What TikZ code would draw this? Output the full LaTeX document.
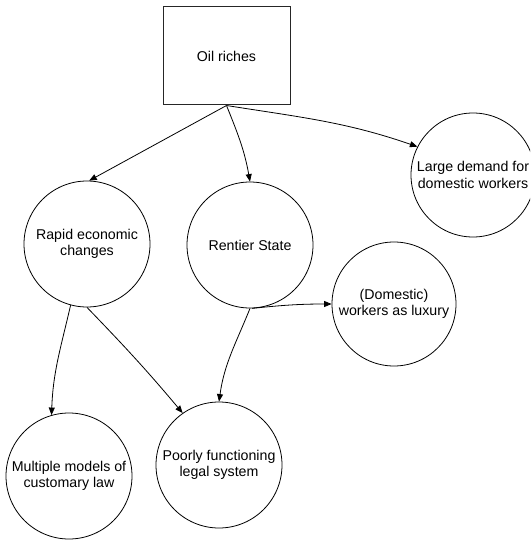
\documentclass[tikz,border=0pt]{standalone}
\usepackage{fontspec}
\setmainfont{Liberation Sans}
\usetikzlibrary{arrows.meta}

\tikzset{
  every node/.style={font=\fontsize{14.2}{16.5}\selectfont, align=center, inner sep=0pt},
  topbox/.style={draw=black!85, line width=1pt, rectangle, minimum width=127pt, minimum height=98pt},
  bubble/.style={draw, line width=0.8pt, circle, minimum size=126pt},
  link/.style={line width=0.8pt, -{Triangle[length=7.5pt,width=6pt]}}
}

\begin{document}
\begin{tikzpicture}[x=1pt, y=-1pt]
  \useasboundingbox (0,0) rectangle (530,540);
  \clip (0,0) rectangle (530,540);

  % nodes
  \node[topbox] (oil) at (226.5,56) {Oil riches};
  \node[bubble] (rapid) at (87,244) {Rapid economic\\changes};
  \node[bubble] (rentier) at (250,245) {Rentier State};
  \node[bubble, minimum size=124pt] (large) at (473,175) {Large demand for\\domestic workers};
  \node[bubble, minimum size=124pt] (luxury) at (394,304) {(Domestic)\\workers as luxury};
  \node[bubble] (multiple) at (69,476) {Multiple models of\\customary law};
  \node[bubble] (poorly) at (219,465) {Poorly functioning\\legal system};

  % connectors
  \draw[link] (oil.south) -- (rapid.88);
  \draw[link] (oil.south) to[out=-68, in=100] (rentier.north);
  \draw[link] (oil.south) to[out=-9, in=161] (large.153);
  \draw[link] (rentier.-88) to[out=6, in=180] (luxury.west);
  \draw[link] (rentier.-90) to[out=-112, in=82] (poorly.north);
  \draw[link] (rapid.-105) to[out=-103, in=88] (multiple.106);
  \draw[link] (rapid.-90) to[out=-46, in=130] (poorly.125);
\end{tikzpicture}
\end{document}
